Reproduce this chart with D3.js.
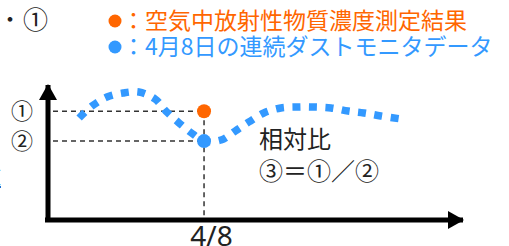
<!DOCTYPE html>
<html>
<head>
<meta charset="utf-8">
<script src="https://cdn.jsdelivr.net/npm/d3@7"></script>
<style>
  body { margin: 0; background: #fff; }
  svg { display: block; font-family: "Noto Sans CJK JP", "Noto Sans", sans-serif; }
</style>
</head>
<body>
<div id="chart"></div>
<script>
// continuous dust monitor trace (arbitrary units, x: 0-100, y: 0-100)
var traceX = [7.5, 10.6, 14.2, 18.1, 21.9, 25.8, 28.4, 31.6, 34.9, 37.6, 41.7, 45.1, 48.4, 52, 56.1, 60.2, 64.1, 68.2, 72.3, 76.1, 80.2, 85.1];
var traceY = [75, 83.8, 90.4, 93.4, 94.1, 89, 80.1, 71.3, 63.2, 58.1, 58.8, 65.4, 72.1, 78.7, 82.4, 83.1, 83.1, 82.4, 80.1, 78.7, 76.5, 74.3];

// the two measurements on 4/8
var sampleX = 37.6;
var measuredValue = 80;    // ① air sample result
var monitorValue = 58;     // ② dust monitor value
var tickLabels = ["4/8"];
var levelLabels = ["①", "②"];

var legendLabels = ["：空気中放射性物質濃度測定結果", "：4月8日の連続ダストモニタデータ"];
var legendColors = ["#ff6600", "#3399ff"];
var ratioLines = ["相対比", "③＝①／②"];

var w = 509, h = 246;
var svg = d3.select("#chart").append("svg").attr("width", w).attr("height", h);

var x = d3.scaleLinear().domain([0, 100]).range([48, 463]);
var y = d3.scaleLinear().domain([0, 100]).range([220, 84]);

// arrow heads
var defs = svg.append("defs");
defs.append("marker").attr("id", "arrow")
  .attr("markerUnits", "userSpaceOnUse")
  .attr("viewBox", "0 0 16 18").attr("refX", 15).attr("refY", 9)
  .attr("markerWidth", 16).attr("markerHeight", 18)
  .attr("orient", "auto")
  .append("path").attr("d", "M0,0L16,9L0,18Z").attr("fill", "#000");

// top bullet
svg.append("text").attr("x", 10).attr("y", 27).attr("text-anchor", "middle")
  .attr("font-size", 22).attr("fill", "#222").text("・");
svg.append("text").attr("x", 23).attr("y", 29)
  .attr("font-size", 25).attr("fill", "#222").text("①");

// legend
var leg = svg.selectAll("g.leg").data(legendLabels).enter().append("g").attr("class", "leg")
  .attr("transform", function(d, i) { return "translate(0," + (i * 26) + ")"; });
leg.append("circle").attr("cx", 115).attr("cy", 21).attr("r", 6.5)
  .attr("fill", function(d, i) { return legendColors[i]; });
leg.append("text").attr("x", 122).attr("y", 29).attr("font-size", 23)
  .attr("fill", function(d, i) { return legendColors[i]; })
  .text(function(d) { return d; });

// cut-off link text at the left edge
svg.append("text").attr("x", -19).attr("y", 185).attr("font-size", 20)
  .attr("fill", "#1f6fd0").attr("text-decoration", "underline").text("値");

// guide lines
var guides = svg.append("g").attr("stroke", "#333").attr("stroke-width", 1.5).attr("stroke-dasharray", "5,4");
[measuredValue, monitorValue].forEach(function(v) {
  guides.append("line").attr("x1", x(0) + 5).attr("x2", x(sampleX))
    .attr("y1", y(v)).attr("y2", y(v));
});
guides.append("line").attr("x1", x(sampleX)).attr("x2", x(sampleX))
  .attr("y1", y(measuredValue)).attr("y2", y(0));

// trace
var pts = traceX.map(function(d, i) { return [d, traceY[i]]; });
var line = d3.line().x(function(d) { return x(d[0]); }).y(function(d) { return y(d[1]); })
  .curve(d3.curveCatmullRom);
svg.append("path").datum(pts).attr("d", line)
  .attr("fill", "none").attr("stroke", "#3399ff").attr("stroke-width", 7.5)
  .attr("stroke-dasharray", "8,8.5");

// points
svg.append("circle").attr("cx", x(sampleX)).attr("cy", y(measuredValue)).attr("r", 7).attr("fill", legendColors[0]);
svg.append("circle").attr("cx", x(sampleX)).attr("cy", y(monitorValue)).attr("r", 7).attr("fill", legendColors[1]);

// level labels
svg.selectAll("text.lvl").data(levelLabels).enter().append("text").attr("class", "lvl")
  .attr("x", 11).attr("y", function(d, i) { return y([measuredValue, monitorValue][i]) + 8; })
  .attr("font-size", 22).attr("fill", "#222").text(function(d) { return d; });

// axes
var xAxis = d3.axisBottom(x).tickValues([sampleX]).tickFormat(function() { return tickLabels[0]; })
  .tickSize(0).tickSizeOuter(0).tickPadding(6);
var gx = svg.append("g").attr("transform", "translate(0," + y(0) + ")").call(xAxis);
gx.select(".domain").remove();
gx.selectAll("text").attr("font-family", "Noto Sans, sans-serif").attr("font-size", 28)
  .attr("fill", "#222").attr("dx", 7);

svg.append("line").attr("x1", x(0) - 3).attr("x2", x(100)).attr("y1", y(0)).attr("y2", y(0))
  .attr("stroke", "#000").attr("stroke-width", 5).attr("marker-end", "url(#arrow)");
svg.append("line").attr("x1", x(0)).attr("x2", x(0)).attr("y1", y(0) + 2).attr("y2", y(100) + 1)
  .attr("stroke", "#000").attr("stroke-width", 5).attr("marker-end", "url(#arrow)");

// ratio note
svg.selectAll("text.ratio").data(ratioLines).enter().append("text").attr("class", "ratio")
  .attr("x", 259).attr("y", function(d, i) { return 148 + i * 32; })
  .attr("font-size", 24).attr("fill", "#222").text(function(d) { return d; });
</script>
</body>
</html>
